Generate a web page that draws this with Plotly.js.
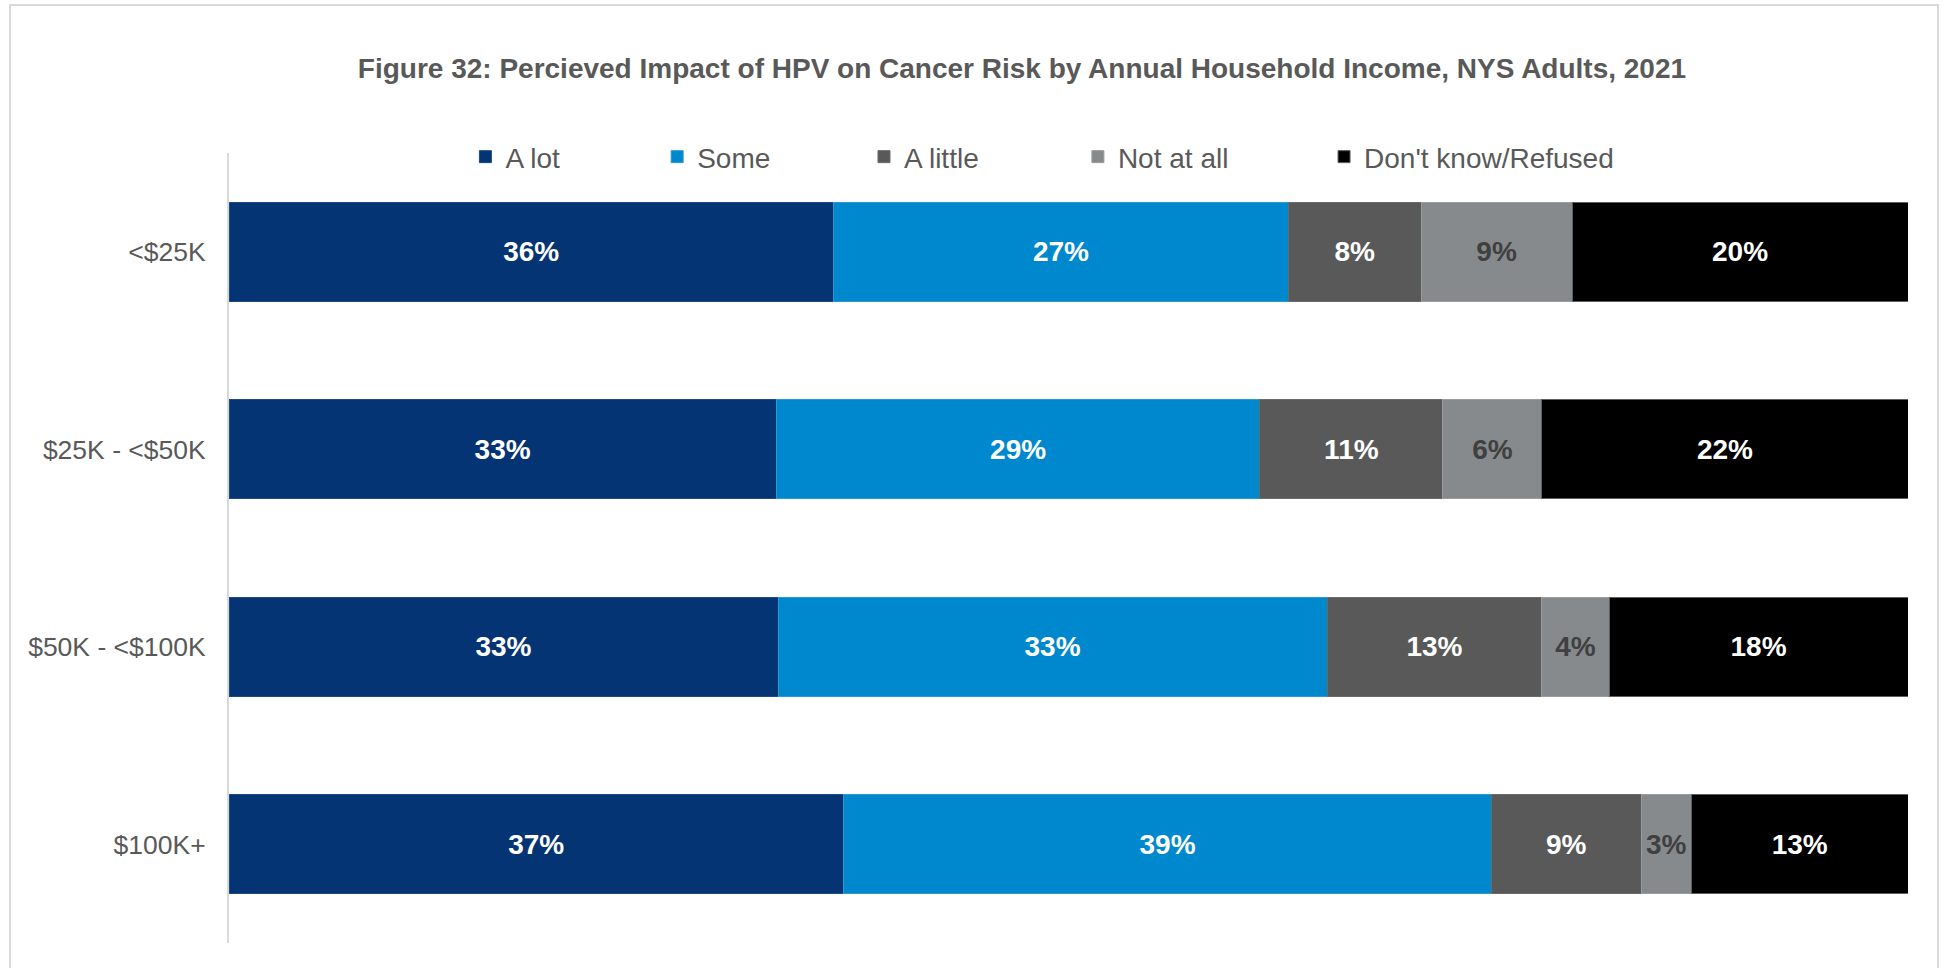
<!DOCTYPE html>
<html>
<head>
<meta charset="utf-8">
<script src="https://cdn.plot.ly/plotly-3.0.1.min.js"></script>
<style>
  html, body { margin: 0; padding: 0; background: #ffffff; }
  #chart { width: 1944px; height: 968px; }
</style>
</head>
<body>
<div id="chart"></div>
<script>
// Categories (top to bottom)
const incomeGroups = ["<$25K", "$25K - <$50K", "$50K - <$100K", "$100K+"];

// Series names
const seriesNames = ["A lot", "Some", "A little", "Not at all", "Don't know/Refused"];

// Series values (percent)
const aLot       = [36.0, 32.6, 32.7, 36.6];
const some       = [27.1, 28.8, 32.7, 38.6];
const aLittle    = [7.9, 10.9, 12.8, 8.9];
const notAtAll   = [9.0, 5.9, 4.0, 3.0];
const dontKnow   = [20.0, 21.8, 17.8, 12.9];

const seriesValues = [aLot, some, aLittle, notAtAll, dontKnow];
const seriesColors = ["#053474", "#0088CF", "#595959", "#878A8C", "#000000"];
const seriesEdge   = ["#1d4a85", "#2a9ad6", "#6a6a6a", "#9a9c9e", "#5f5f5f"];
const labelColors  = ["#ffffff", "#ffffff", "#ffffff", "#404040", "#ffffff"];

// Legend entry positions (paper x) - one small legend per series, laid out like the original
const legendX = [0.1408, 0.2550, 0.3782, 0.5056, 0.6522];
const legendIds = ["legend", "legend2", "legend3", "legend4", "legend5"];

const FONT = "Liberation Sans, Arial, sans-serif";

const traces = seriesNames.map((name, i) => ({
  type: "bar",
  orientation: "h",
  name: name,
  legend: legendIds[i],
  y: incomeGroups,
  x: seriesValues[i],
  marker: { color: seriesColors[i], line: { color: seriesEdge[i], width: 1 } },
  texttemplate: "%{x:.0f}%",
  textposition: "inside",
  insidetextanchor: "middle",
  textangle: 0,
  constraintext: "none",
  textfont: { family: FONT, size: 28, color: labelColors[i], weight: "bold" },
  hoverinfo: "skip"
}));

const layout = {
  width: 1944,
  height: 968,
  paper_bgcolor: "#ffffff",
  plot_bgcolor: "#ffffff",
  margin: { l: 229, r: 36, t: 153, b: 25, pad: 0 },
  barmode: "stack",
  bargap: 0.5,
  showlegend: true,
  title: {
    text: "Figure 32: Percieved Impact of HPV on Cancer Risk by Annual Household Income, NYS Adults, 2021",
    font: { family: FONT, size: 28, color: "#595959", weight: "bold" },
    x: 0.5257, xanchor: "center", xref: "container",
    y: 0.93, yanchor: "middle", yref: "container"
  },
  xaxis: {
    range: [0, 100],
    showgrid: false,
    zeroline: false,
    showline: false,
    showticklabels: false,
    ticks: "",
    fixedrange: true
  },
  yaxis: {
    type: "category",
    autorange: "reversed",
    showgrid: false,
    zeroline: false,
    showline: true,
    linecolor: "#d9d9d9",
    linewidth: 2,
    ticks: "",
    ticklabelstandoff: 16,
    tickfont: { family: FONT, size: 26.5, color: "#595959" },
    fixedrange: true
  },
  shapes: [{
    type: "rect",
    xref: "paper", yref: "paper",
    x0: -0.1304, x1: 1.0179,
    y0: -0.06, y1: 1.1873,
    line: { color: "#d9d9d9", width: 2 },
    fillcolor: "rgba(0,0,0,0)",
    layer: "below"
  }]
};

legendIds.forEach((id, i) => {
  layout[id] = {
    orientation: "h",
    x: legendX[i], xanchor: "left",
    y: 0.995, yanchor: "middle",
    font: { family: FONT, size: 28, color: "#595959" },
    bgcolor: "rgba(0,0,0,0)"
  };
});

Plotly.newPlot("chart", traces, layout, { displayModeBar: false, staticPlot: true });
</script>
</body>
</html>
